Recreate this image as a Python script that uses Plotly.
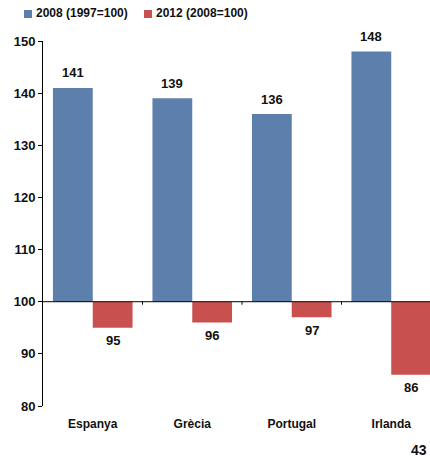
import plotly.graph_objects as go

# Index values by country
countries = ["Espanya", "Grècia", "Portugal", "Irlanda"]
series_names = ["2008 (1997=100)", "2012 (2008=100)"]
values_2008 = [141, 139, 136, 148]
values_2012 = [95, 96, 97, 86]
base_value = 100
y_ticks = [80, 90, 100, 110, 120, 130, 140, 150]

blue = "#5d7fab"
red = "#c8504e"
font_family = "Liberation Sans, Arial, sans-serif"

W, H = 430, 461
ml, mr, mt, mb = 43, 0, 41, 55
plot_w = W - ml - mr
plot_h = H - mt - mb


def px_x(px):
    return (px - ml) / plot_w


def px_y(py):
    return (H - mb - py) / plot_h


fig = go.Figure()
for name, vals, col in [(series_names[0], values_2008, blue),
                        (series_names[1], values_2012, red)]:
    fig.add_trace(go.Bar(
        x=countries,
        y=[v - base_value for v in vals],
        base=base_value,
        name=name,
        marker=dict(color=col, line=dict(width=0)),
        showlegend=False,
        hoverinfo="skip",
    ))

annotations = []
# value labels above / below each bar
for i, c in enumerate(countries):
    annotations.append(dict(
        x=c, y=values_2008[i], xref="x", yref="y", text=str(values_2008[i]),
        showarrow=False, xshift=-20, yshift=15,
        font=dict(family=font_family, size=13, color="#111111", weight="bold")))
    annotations.append(dict(
        x=c, y=values_2012[i], xref="x", yref="y", text=str(values_2012[i]),
        showarrow=False, xshift=20, yshift=-13,
        font=dict(family=font_family, size=13, color="#111111", weight="bold")))

# legend drawn as swatches + text
shapes = []
legend_x = [24, 144]
for (lx, name, col) in zip(legend_x, series_names, [blue, red]):
    shapes.append(dict(type="rect", xref="paper", yref="paper",
                       x0=px_x(lx), x1=px_x(lx + 8), y0=px_y(18), y1=px_y(10),
                       fillcolor=col, line=dict(width=0)))
    annotations.append(dict(
        x=px_x(lx + 10), y=px_y(13.5), xref="paper", yref="paper", text=name,
        showarrow=False, xanchor="left", yanchor="middle",
        font=dict(family=font_family, size=12, color="#111111", weight="bold")))

# baseline at 100
shapes.append(dict(type="line", xref="paper", yref="y", x0=0, x1=1,
                   y0=base_value, y1=base_value,
                   line=dict(color="#000000", width=1)))
# small separator ticks between categories on the baseline
for k in range(1, len(countries)):
    shapes.append(dict(type="line", xref="x", yref="y",
                       ysizemode="pixel", yanchor=base_value,
                       x0=k - 0.5, x1=k - 0.5, y0=0, y1=-3,
                       line=dict(color="#000000", width=1)))

# page number
annotations.append(dict(
    x=px_x(429), y=px_y(450), xref="paper", yref="paper", text="43",
    showarrow=False, xanchor="right", yanchor="middle",
    font=dict(family=font_family, size=14, color="#111111", weight="bold")))

fig.update_layout(
    width=W, height=H,
    margin=dict(l=ml, r=mr, t=mt, b=mb, pad=0),
    paper_bgcolor="white", plot_bgcolor="white",
    barmode="group", bargap=0.2, bargroupgap=0,
    annotations=annotations, shapes=shapes,
    xaxis=dict(
        type="category", range=[-0.5, -0.5 + plot_w / 99.5],
        showgrid=False, zeroline=False, showline=False,
        ticks="outside", ticklen=7, tickcolor="rgba(0,0,0,0)",
        tickfont=dict(family=font_family, size=12, color="#111111", weight="bold"),
    ),
    yaxis=dict(
        range=[80, 150], tickvals=y_ticks,
        showgrid=False, zeroline=False,
        showline=True, linecolor="#000000", linewidth=1,
        ticks="outside", ticklen=4, tickcolor="#000000",
        tickfont=dict(family=font_family, size=13, color="#111111", weight="bold"),
    ),
)

fig.write_html("out.html")
